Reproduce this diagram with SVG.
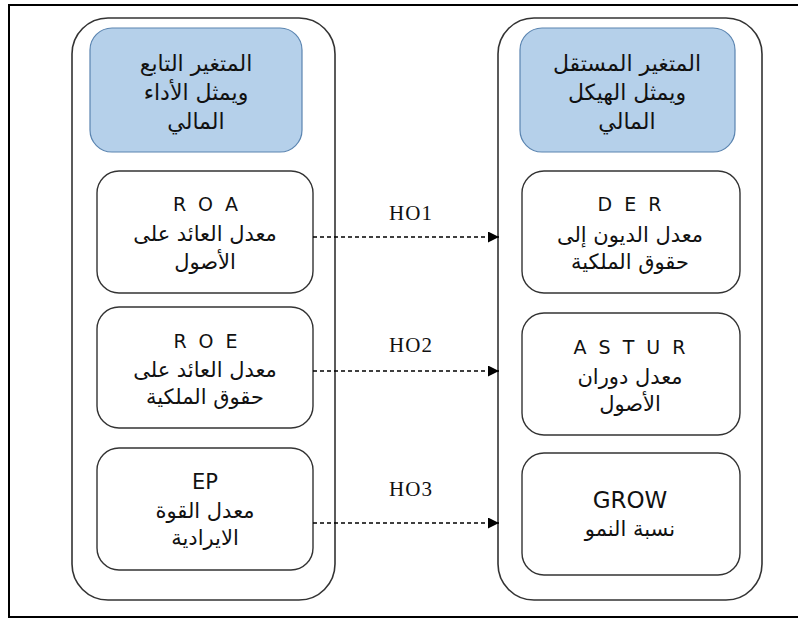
<svg xmlns="http://www.w3.org/2000/svg" width="798" height="618" viewBox="0 0 798 618">
<style>
.frame{fill:none;stroke:#000;stroke-width:2}
.cont{fill:none;stroke:#333;stroke-width:1.6}
.head{fill:#b5d0ea;stroke:#5a84b0;stroke-width:1.2}
.box{fill:#fff;stroke:#333;stroke-width:1.4}
.ar{font-family:"DejaVu Sans","Noto Sans",sans-serif;font-size:21px;fill:#111;text-anchor:middle;dominant-baseline:central}
.hd{font-size:22px}
.la{font-family:"DejaVu Sans","Liberation Sans",sans-serif;font-size:19px;fill:#111;text-anchor:middle;dominant-baseline:central;letter-spacing:3px}
.lb{font-family:"DejaVu Sans","Liberation Sans",sans-serif;fill:#111;text-anchor:middle;dominant-baseline:central}
.lbl{font-family:"Liberation Serif","Times New Roman",serif;font-size:21px;fill:#111;text-anchor:middle;dominant-baseline:central;letter-spacing:1px}
.conn{fill:none;stroke:#000;stroke-width:1.3;stroke-dasharray:4 3}
</style>
<defs>
<marker id="arr" markerWidth="12" markerHeight="12" refX="11" refY="5.5" orient="auto" markerUnits="userSpaceOnUse">
<path d="M0,0 L11,5.5 L0,11 Z" fill="#000"/>
</marker>
</defs>
<path class="frame" d="M798,5 H9 V617 H798"/>
<g id="left-container">
<rect class="cont" x="72" y="18" width="263" height="582" rx="36"/>
</g>
<g id="right-container">
<rect class="cont" x="498" y="18" width="264" height="582" rx="36"/>
</g>
<g id="left-header">
<rect class="head" x="90" y="28" width="212" height="124" rx="22"/>
<text class="ar hd" x="196" y="63">المتغير التابع</text>
<text class="ar hd" x="196" y="92">ويمثل الأداء</text>
<text class="ar hd" x="196" y="121">المالي</text>
</g>
<g id="right-header">
<rect class="head" x="520" y="28" width="215" height="124" rx="22"/>
<text class="ar hd" x="627" y="63">المتغير المستقل</text>
<text class="ar hd" x="627" y="92">ويمثل الهيكل</text>
<text class="ar hd" x="627" y="121">المالي</text>
</g>
<g id="roa">
<rect class="box" x="97" y="171" width="216" height="122" rx="22"/>
<text class="la" x="207" y="204">R O A</text>
<text class="ar" x="205" y="234">معدل العائد على</text>
<text class="ar" x="205" y="262">الأصول</text>
</g>
<g id="roe">
<rect class="box" x="97" y="307" width="216" height="121" rx="22"/>
<text class="la" x="207" y="341">R O E</text>
<text class="ar" x="205" y="370">معدل العائد على</text>
<text class="ar" x="205" y="397">حقوق الملكية</text>
</g>
<g id="ep">
<rect class="box" x="97" y="448" width="216" height="122" rx="22"/>
<text class="lb" x="205" y="482" font-size="21">EP</text>
<text class="ar" x="205" y="511">معدل القوة</text>
<text class="ar" x="205" y="538">الايرادية</text>
</g>
<g id="der">
<rect class="box" x="522" y="171" width="218" height="122" rx="22"/>
<text class="la" x="631" y="204">D E R</text>
<text class="ar" x="630" y="235">معدل الديون إلى</text>
<text class="ar" x="630" y="262">حقوق الملكية</text>
</g>
<g id="astur">
<rect class="box" x="522" y="313" width="218" height="122" rx="22"/>
<text class="la" x="631" y="347">A S T U R</text>
<text class="ar" x="630" y="377">معدل دوران</text>
<text class="ar" x="630" y="404">الأصول</text>
</g>
<g id="grow">
<rect class="box" x="522" y="453" width="218" height="122" rx="22"/>
<text class="lb" x="630" y="500" font-size="23">GROW</text>
<text class="ar" x="630" y="529">نسبة  النمو</text>
</g>
<g id="connectors">
<line class="conn" x1="313" y1="237" x2="499" y2="237" marker-end="url(#arr)"/>
<line class="conn" x1="313" y1="371" x2="499" y2="371" marker-end="url(#arr)"/>
<line class="conn" x1="313" y1="523" x2="499" y2="523" marker-end="url(#arr)"/>
<text class="lbl" x="411" y="213">HO1</text>
<text class="lbl" x="411" y="345">HO2</text>
<text class="lbl" x="411" y="489">HO3</text>
</g>
</svg>
